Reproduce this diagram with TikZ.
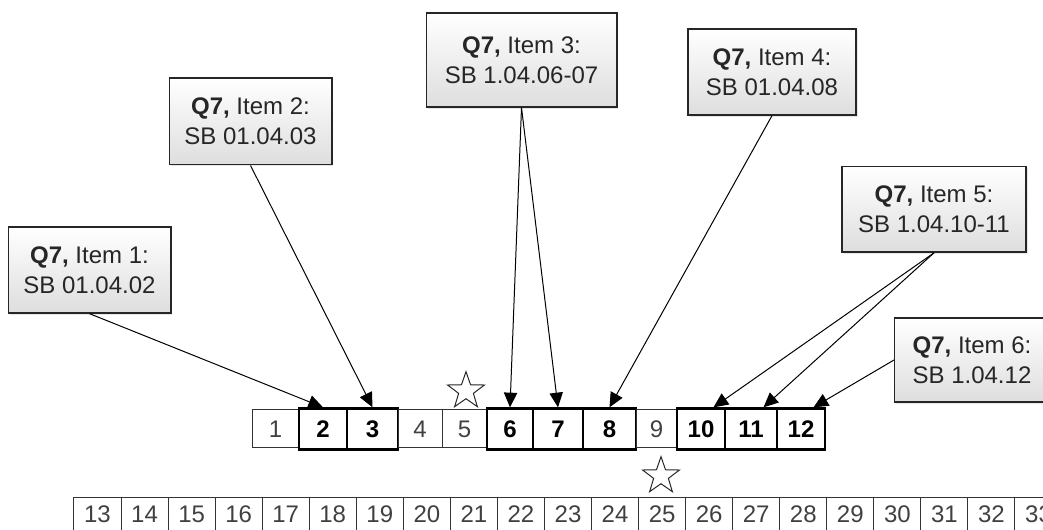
\documentclass[tikz,border=0pt]{standalone}
\usepackage{fontspec}
\setmainfont{Liberation Sans}
\usetikzlibrary{shapes.geometric,arrows.meta,shadows}
\begin{document}
\begin{tikzpicture}[x=0.75pt,y=-0.75pt,
    font=\fontsize{18}{22.5}\selectfont,
    cell/.style={draw=black!80,line width=0.75pt,minimum height=28.5pt,inner sep=0pt,text=black!75},
    boldcell/.style={draw=black,line width=2pt,minimum height=30.5pt,inner sep=0pt,font=\fontsize{18}{22.5}\selectfont\bfseries},
    callout/.style={draw=black!85,line width=1pt,top color=white,bottom color=black!13,align=center,inner sep=0pt,text=black!85,
        drop shadow={shadow xshift=1.2pt,shadow yshift=-1.2pt,opacity=0.2}},
    pointer/.style={-{Triangle[length=11pt,width=10pt]},line width=0.75pt},
    starmark/.style={star,star points=5,star point ratio=2.5,draw=black!85,line width=0.75pt,minimum size=29pt,inner sep=0pt}]

\def\QLABEL{\textbf{Q7,}}
	\useasboundingbox (0,0) rectangle (1043,530);
	\clip (0,0) rectangle (1043,530);

	\foreach \n/\l/\r/\s in {1/252/299/cell,2/299/347/boldcell,3/347/398/boldcell,4/398/442/cell,
	    5/442/487/cell,6/487/533/boldcell,7/533/583/boldcell,8/583/636/boldcell,9/636/677/cell,
	    10/677/725/boldcell,11/725/777/boldcell,12/777/825/boldcell}
	    \node[\s,minimum width={(\r-\l)*0.75pt}] (c\n) at ({(\l+\r)/2},429) {\n};
	\foreach \n in {13,...,33}
	    \node[cell,minimum width=35.3pt,minimum height=26pt] (c\n) at ({74+47.05*(\n-13)+23.5},514.5) {\n};

	\node[starmark] (s1) at (466,391) {};
	\node[starmark] (s2) at (661,476) {};

	\node[callout,minimum width=122pt,minimum height=64.5pt] (q1) at (89.5,270) {\QLABEL{} Item 1:\\SB 01.04.02};
	\node[callout,minimum width=122pt,minimum height=65pt] (q2) at (250.5,121.5) {\QLABEL{} Item 2:\\SB 01.04.03};
	\node[callout,minimum width=143pt,minimum height=70.5pt] (q3) at (521.5,60) {\QLABEL{} Item 3:\\SB 1.04.06-07};
	\node[callout,minimum width=126pt,minimum height=64.5pt] (q4) at (772,72) {\QLABEL{} Item 4:\\SB 01.04.08};
	\node[callout,minimum width=138pt,minimum height=64pt] (q5) at (934,209.5) {\QLABEL{} Item 5:\\SB 1.04.10-11};
	\node[callout,minimum width=116pt,minimum height=63pt] (q6) at (972,360) {\QLABEL{} Item 6:\\SB 1.04.12};

	\draw[pointer] (q1.south) -- (c2.north);
	\draw[pointer] (q2.south) -- (c3.north);
	\draw[pointer] (q3.south) -- (c6.north);
	\draw[pointer] (q3.south) -- (c7.north);
	\draw[pointer] (q4.south) -- (c8.north);
	\draw[pointer] (q5.south) -- (c10.60);
	\draw[pointer] (q5.south) -- (c11.60);
	\draw[pointer] (q6.west) -- (c12.60);

\end{tikzpicture}
\end{document}
